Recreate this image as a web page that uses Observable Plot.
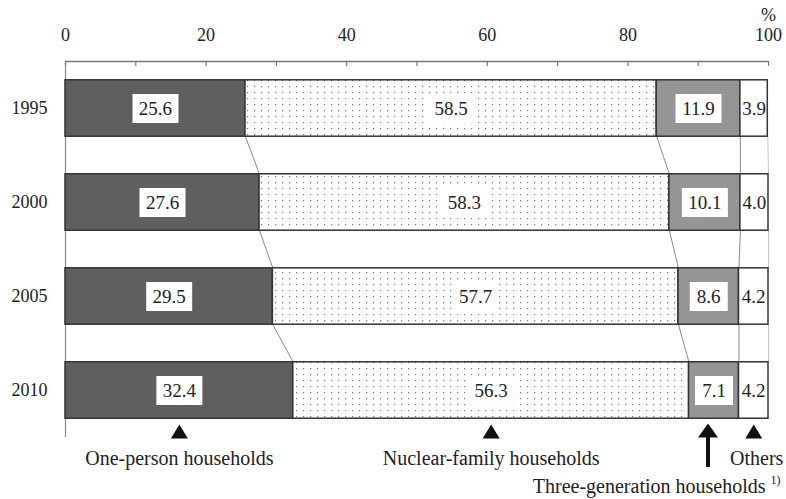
<!DOCTYPE html>
<html>
<head>
<meta charset="utf-8">
<script src="https://cdn.jsdelivr.net/npm/d3@7"></script>
<script src="https://cdn.jsdelivr.net/npm/@observablehq/plot@0.6"></script>
<style>
  html, body { margin: 0; padding: 0; background: #fff; }
  #chart svg { display: block; }
</style>
</head>
<body>
<div id="chart"></div>
<script>
const years = ["1995", "2000", "2005", "2010"];
const categories = ["One-person households", "Nuclear-family households", "Three-generation households", "Others"];
const onePerson = [25.6, 27.6, 29.5, 32.4];
const nuclear = [58.5, 58.3, 57.7, 56.3];
const threeGen = [11.9, 10.1, 8.6, 7.1];
const others = [3.9, 4.0, 4.2, 4.2];
const xTickLabels = [0, 20, 40, 60, 80, 100];
const xMinorTicks = [0, 10, 20, 30, 40, 50, 60, 70, 80, 90, 100];

const series = [onePerson, nuclear, threeGen, others];
const fills = ["#5f5f61", "url(#dots)", "#959597", "#ffffff"];
const half = 0.3; // half bar thickness in band units

// stacked segments
const rows = [];
const cums = [];
years.forEach((yr, i) => {
  let c = 0;
  const cum = [0];
  series.forEach((s, k) => {
    rows.push({i, k, v: s[i], x1: c, x2: c + s[i], mid: c + s[i] / 2, label: s[i].toFixed(1)});
    c += s[i];
    cum.push(c);
  });
  cums.push(cum);
});

// connecting lines between consecutive bars
const links = [];
for (let i = 0; i < years.length - 1; i++) {
  for (let k = 1; k <= series.length; k++) {
    links.push({k, x1: cums[i][k], x2: cums[i + 1][k], y1: i + half, y2: i + 1 - half});
  }
}

// bottom annotations (positions from the 2010 bar)
const last = rows.filter(d => d.i === years.length - 1);
const annot = last.map(d => ({k: d.k, x: d.mid, name: categories[d.k]}));

const boxSymbol = (w, h) => ({draw(ctx) { ctx.rect(-w / 2, -h / 2, w, h); }});
const triSymbol = (w, h) => ({draw(ctx) { ctx.moveTo(0, 0); ctx.lineTo(-w / 2, h); ctx.lineTo(w / 2, h); ctx.closePath(); }});

const boxed = rows.filter(d => d.k < 3);

const chart = Plot.plot({
  width: 786,
  height: 499,
  marginTop: 61,
  marginBottom: 62,
  marginLeft: 65,
  marginRight: 18,
  x: {domain: [0, 100], axis: null},
  y: {domain: [3.5, -0.5], axis: null},
  style: {fontFamily: "'Liberation Serif', 'Times New Roman', serif", fontSize: "18px", color: "#222", background: "#fff"},
  marks: [
    // frame lines and top axis
    Plot.ruleY([-0.5], {stroke: "#777", strokeWidth: 1.5}),
    Plot.ruleX([0], {stroke: "#888", strokeWidth: 1.2}),
    Plot.ruleX(xMinorTicks, {stroke: "#777", strokeWidth: 1.2, insetBottom: 371}),
    Plot.text(xTickLabels, {x: d => d, text: d => String(d), frameAnchor: "top", lineAnchor: "middle", dy: -26, fontSize: 18, fill: "#222"}),
    Plot.text(["%"], {x: 100, frameAnchor: "top", lineAnchor: "middle", dy: -46, fontSize: 18, fill: "#222"}),
    Plot.axisY([0, 1, 2, 3], {tickSize: 0, tickPadding: 18, tickFormat: i => years[i], fontSize: 18, fill: "#222"}),
    // connecting lines
    Plot.link(links, {x1: "x1", x2: "x2", y1: "y1", y2: "y2", stroke: d => d.k === 4 ? "#c4c4c4" : "#8a8a8a", strokeWidth: 1}),
    // bars
    ...series.map((s, k) => Plot.rect(rows.filter(d => d.k === k), {
      x1: "x1", x2: "x2", y1: d => d.i - half, y2: d => d.i + half,
      fill: fills[k], stroke: "#333", strokeWidth: 1.5
    })),
    // label boxes
    Plot.dot(boxed.filter(d => d.label.length >= 4), {x: "mid", y: "i", symbol: boxSymbol(46, 29), r: 5, fill: "#fff", stroke: "none"}),
    Plot.dot(boxed.filter(d => d.label.length < 4), {x: "mid", y: "i", symbol: boxSymbol(38, 29), r: 5, fill: "#fff", stroke: "none"}),
    Plot.text(rows, {x: "mid", y: "i", text: "label", fontSize: 19, fill: "#222"}),
    // bottom markers
    Plot.dot(annot.filter(d => d.k !== 2), {x: "x", frameAnchor: "bottom", dy: -13, symbol: triSymbol(17, 14), r: 5, fill: "#111", stroke: "none"}),
    Plot.dot(annot.filter(d => d.k === 2), {x: "x", frameAnchor: "bottom", dx: -6, dy: -14, symbol: triSymbol(20, 14), r: 5, fill: "#111", stroke: "none"}),
    Plot.ruleX(annot.filter(d => d.k === 2), {x: "x", dx: -6, insetTop: 375, insetBottom: -30, stroke: "#111", strokeWidth: 4}),
    Plot.text(annot.filter(d => d.k < 2), {x: "x", text: "name", frameAnchor: "bottom", lineAnchor: "middle", dy: 21, fontSize: 20, fill: "#222"}),
    Plot.text(annot.filter(d => d.k === 3), {x: "x", text: "name", frameAnchor: "bottom", lineAnchor: "middle", dx: 3, dy: 21, fontSize: 20, fill: "#222"}),
    Plot.text([categories[2]], {frameAnchor: "bottom-right", textAnchor: "end", lineAnchor: "middle", dx: -3, dy: 49, fontSize: 20, fill: "#222"}),
    Plot.text(["1)"], {frameAnchor: "bottom-right", textAnchor: "start", lineAnchor: "middle", dx: 2, dy: 43, fontSize: 12, fill: "#222"})
  ]
});

const defs = d3.create("svg:defs");
const pat = defs.append("pattern").attr("id", "dots").attr("width", 7).attr("height", 6).attr("patternUnits", "userSpaceOnUse");
pat.append("rect").attr("width", 7).attr("height", 6).attr("fill", "#fff");
pat.append("rect").attr("x", 2).attr("y", 2).attr("width", 1.2).attr("height", 1.2).attr("fill", "#777");
chart.insertBefore(defs.node(), chart.firstChild);

document.getElementById("chart").appendChild(chart);
</script>
</body>
</html>
